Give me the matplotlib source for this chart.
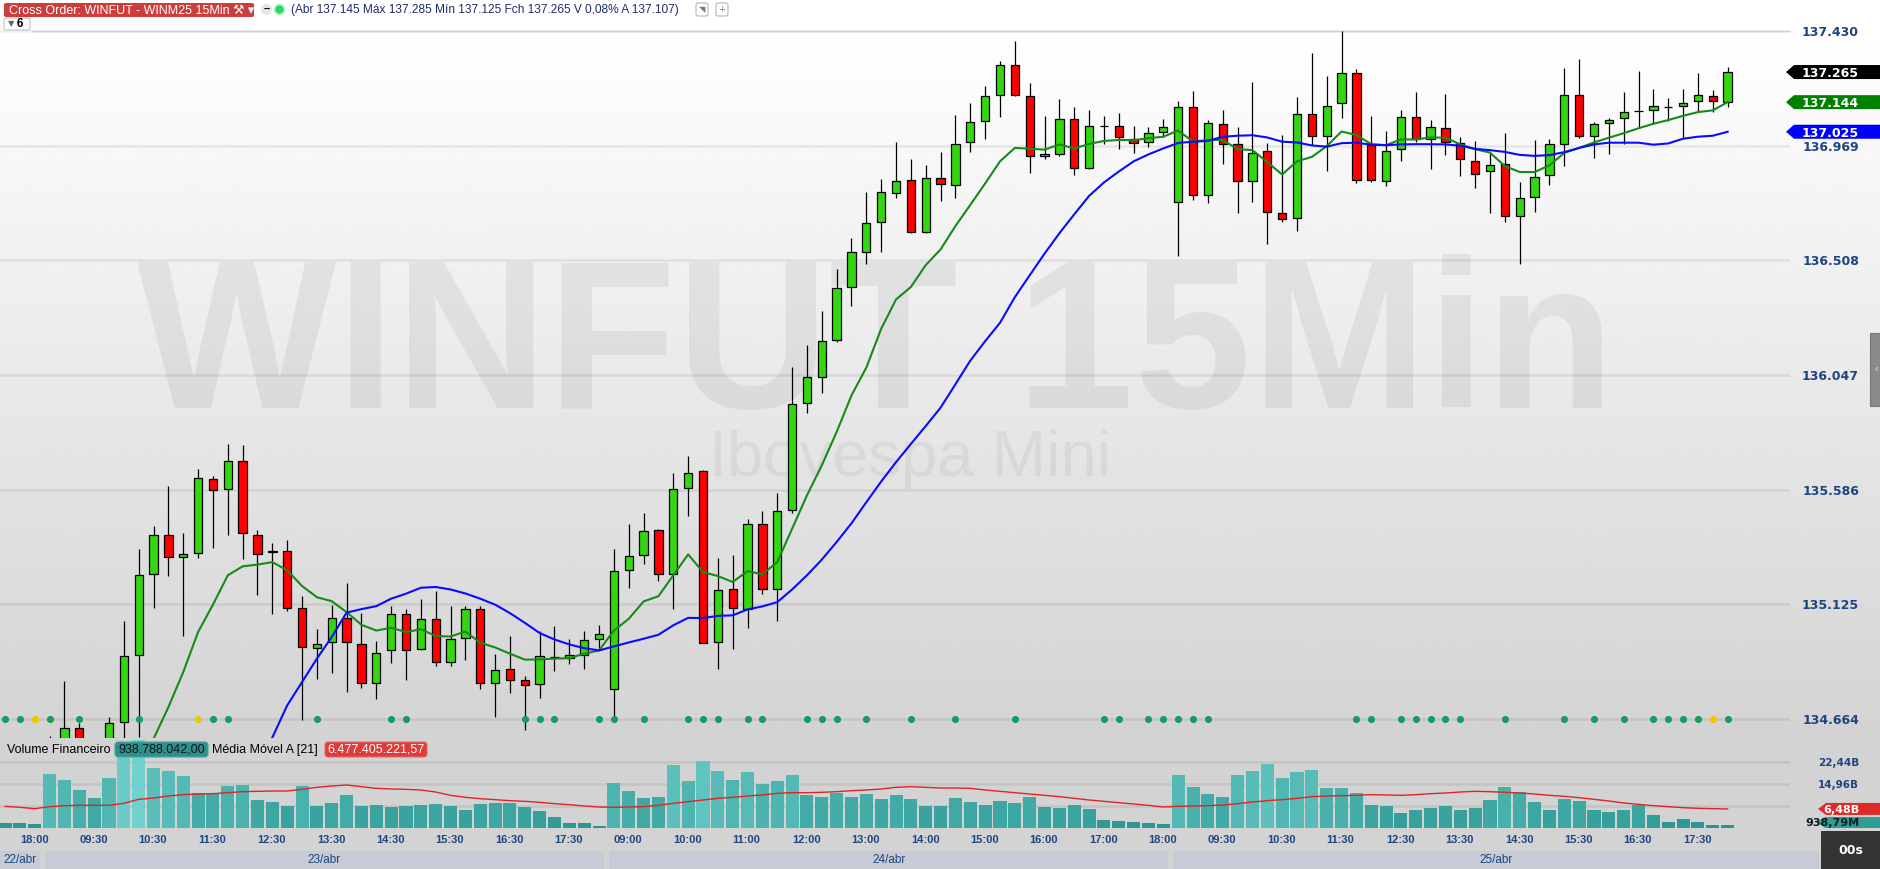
import numpy as np
import matplotlib
matplotlib.use('Agg')
import matplotlib.pyplot as plt
from matplotlib.patches import Rectangle, Polygon, FancyBboxPatch, Circle

plt.rcParams['font.family'] = ['Liberation Sans', 'DejaVu Sans']

nan = np.nan

# candles 15 min (pontos)
open_ = [134520, 134540, 134530, 134545, 134560, 134627, 134560, 134580, 134651, 134920,
         135248, 135406, 135314, 135330, 135628, 135587, 135700, 135406, 135334, 135338,
         135109, 134948, 134972, 135069, 134964, 134811, 134940, 135085, 134944, 135065,
         134892, 134988, 135105, 134811, 134864, 134823, 134806, 134913, 134909, 134923,
         134984, 134783, 135262, 135322, 135423, 135246, 135591, 135660, 134972, 135185,
         135105, 135447, 135185, 135503, 135933, 136039, 136188, 136399, 136540, 136661,
         136778, 136831, 136624, 136839, 136810, 136984, 137068, 137173, 137294, 137169,
         136927, 136935, 137077, 136879, 137048, 137048, 136996, 136984, 137022, 136743,
         137126, 136771, 137057, 136975, 136829, 136947, 136699, 136678, 137097, 137008,
         137142, 137260, 136971, 136829, 136955, 137085, 136996, 137040, 136979, 136906,
         136866, 136894, 136687, 136764, 136853, 136975, 137171, 137008, 137061, 137081,
         137110, 137114, 137126, 137130, 137150, 137167, 137145]
high = [134560, 134575, 134570, 134596, 134817, 134648, 134575, 134672, 135058, 135347,
        135440, 135601, 135412, 135669, 135641, 135770, 135766, 135424, 135372, 135384,
        135158, 135026, 135124, 135211, 135090, 134978, 135118, 135106, 135146, 135179,
        135118, 135118, 135118, 134925, 135000, 134837, 135020, 135037, 134984, 135020,
        135041, 135347, 135447, 135492, 135428, 135653, 135721, 135664, 135311, 135322,
        135468, 135500, 135573, 136078, 136169, 136304, 136473, 136598, 136784, 136836,
        136985, 136917, 136892, 136945, 137094, 137142, 137207, 137308, 137388, 137219,
        137090, 137155, 137125, 137114, 137090, 137102, 137050, 137044, 137076, 137148,
        137188, 137072, 137111, 137046, 137225, 136981, 137013, 137164, 137343, 137249,
        137428, 137276, 137087, 137026, 137111, 137184, 137074, 137176, 137005, 136989,
        136941, 137021, 136821, 136993, 136997, 137282, 137317, 137065, 137082, 137184,
        137270, 137196, 137162, 137196, 137261, 137191, 137285]
low = [134470, 134500, 134480, 134500, 134530, 134540, 134520, 134560, 134560, 134593,
       135112, 135240, 134999, 135313, 135353, 135405, 135309, 135164, 135087, 135100,
       134661, 134826, 134850, 134774, 134790, 134746, 134890, 134822, 134940, 134878,
       134878, 134903, 134786, 134672, 134770, 134621, 134750, 134858, 134885, 134866,
       134944, 134668, 135192, 135289, 135219, 135108, 135481, 134968, 134864, 134947,
       135031, 135165, 135059, 135494, 135895, 135976, 136180, 136324, 136495, 136543,
       136757, 136616, 136616, 136745, 136757, 136942, 136995, 137083, 137169, 136861,
       136914, 136926, 136853, 136875, 136974, 136954, 136938, 136962, 137003, 136526,
       136750, 136737, 136895, 136697, 136741, 136575, 136662, 136628, 136971, 136868,
       137080, 136819, 136823, 136807, 136909, 136982, 136876, 136933, 136848, 136799,
       136697, 136661, 136495, 136701, 136809, 136886, 136998, 136921, 136937, 136975,
       137040, 137057, 137069, 137000, 137103, 137106, 137125]
close = [134540, 134530, 134550, 134560, 134627, 134570, 134570, 134647, 134917, 135245,
         135406, 135314, 135326, 135632, 135583, 135700, 135414, 135329, 135341, 135112,
         134952, 134964, 135069, 134972, 134811, 134928, 135085, 134940, 135065, 134892,
         134984, 135105, 134811, 134860, 134823, 134803, 134916, 134913, 134923, 134980,
         135007, 135258, 135318, 135419, 135246, 135587, 135652, 134968, 135181, 135109,
         135447, 135185, 135499, 135929, 136038, 136183, 136397, 136542, 136657, 136782,
         136827, 136624, 136839, 136814, 136976, 137066, 137169, 137294, 137173, 136927,
         136935, 137077, 136879, 137048, 137048, 137004, 136980, 137020, 137046, 137126,
         136771, 137061, 136974, 136829, 136939, 136703, 136674, 137097, 137008, 137130,
         137260, 136833, 136833, 136947, 137085, 136996, 137045, 136983, 136914, 136857,
         136890, 136687, 136760, 136845, 136975, 137171, 137008, 137057, 137073, 137106,
         137110, 137130, 137126, 137142, 137171, 137150, 137265]

# medias moveis
ma_fast = [nan] * 9 + [
    134470, 134585, 134712, 134853, 135014, 135124, 135242, 135278, 135285, 135295,
    135262, 135199, 135154, 135138, 135094, 135043, 135020, 135031, 135014, 135025,
    134998, 134996, 135016, 134971, 134952, 134927, 134903, 134904, 134907, 134909,
    134927, 134940, 135020, 135067, 135137, 135158, 135242, 135326, 135255, 135239,
    135215, 135259, 135246, 135295, 135429, 135563, 135684, 135818, 135965, 136077,
    136233, 136351, 136401, 136489, 136552, 136646, 136731, 136817, 136906, 136960,
    136957, 136953, 136974, 136958, 136976, 136988, 136992, 136991, 136999, 137005,
    137030, 136985, 136992, 136992, 136955, 136951, 136903, 136853, 136906, 136924,
    136967, 137026, 137012, 136975, 136971, 136994, 136994, 137002, 137001, 136974,
    136955, 136941, 136887, 136863, 136863, 136890, 136940, 136960, 136982, 137001,
    137019, 137039, 137057, 137072, 137089, 137104, 137111, 137144]
ma_slow = [nan] * 17 + [
    134460, 134590, 134719, 134813, 134907, 134994, 135092, 135106, 135118, 135148,
    135168, 135192, 135195, 135185, 135169, 135148, 135124, 135090, 135051, 135010,
    134984, 134964, 134949, 134940, 134956, 134972, 134987, 135003, 135041, 135071,
    135070, 135079, 135081, 135105, 135117, 135134, 135185, 135242, 135305, 135376,
    135451, 135536, 135619, 135697, 135770, 135842, 135916, 136010, 136105, 136183,
    136257, 136360, 136448, 136535, 136617, 136693, 136767, 136821, 136865, 136906,
    136934, 136958, 136980, 136985, 136988, 137005, 137009, 137011, 137002, 136985,
    136982, 136970, 136965, 136979, 136981, 136973, 136971, 136974, 136975, 136975,
    136974, 136969, 136956, 136951, 136944, 136932, 136928, 136931, 136943, 136960,
    136974, 136981, 136981, 136981, 136973, 136978, 136997, 137005, 137009, 137025]

# volume financeiro (bilhoes) e media movel 21
volume = [1.70, 1.70, 1.36, 18.47, 16.43, 12.92, 10.20, 17.00, 27.2, 30.0,
          20.40, 19.49, 17.68, 11.79, 11.79, 14.28, 14.62, 9.52, 8.84, 7.48,
          14.28, 7.48, 8.50, 11.22, 7.48, 7.82, 7.14, 7.48, 7.82, 8.16,
          7.48, 6.12, 8.16, 8.50, 8.50, 7.14, 5.78, 3.63, 1.70, 1.70,
          0.68, 15.30, 12.58, 10.20, 10.54, 21.42, 15.98, 22.78, 19.38, 16.32,
          19.04, 14.96, 15.98, 18.02, 11.22, 10.54, 11.90, 10.54, 11.56, 9.86,
          11.22, 9.86, 7.48, 7.48, 10.20, 8.84, 7.82, 9.18, 8.50, 10.54,
          7.14, 6.80, 7.82, 6.46, 2.72, 2.38, 2.04, 1.70, 1.36, 18.02,
          13.94, 11.56, 10.54, 18.02, 19.38, 21.76, 17.00, 19.04, 19.72, 13.60,
          13.60, 11.90, 7.82, 7.48, 5.10, 6.12, 6.80, 7.48, 6.12, 6.80,
          9.52, 13.94, 12.24, 8.84, 6.12, 9.86, 9.18, 6.12, 5.44, 6.12,
          7.82, 4.42, 2.04, 3.06, 2.04, 1.02, 0.93879]
volume_ma = [7.37, 7.03, 6.57, 7.25, 7.59, 7.71, 7.71, 7.71, 8.39, 9.75,
             10.20, 10.88, 11.33, 11.56, 11.67, 12.01, 12.35, 12.47, 12.58, 12.58,
             13.15, 13.83, 14.28, 14.62, 14.05, 13.49, 13.26, 13.15, 12.92, 12.24,
             11.11, 10.43, 9.97, 9.63, 9.29, 9.07, 8.73, 8.27, 7.93, 7.48,
             7.14, 7.03, 7.14, 7.25, 7.71, 8.39, 8.95, 9.52, 10.09, 10.43,
             10.88, 11.22, 11.79, 12.01, 12.01, 12.13, 12.35, 12.69, 12.92, 13.26,
             13.83, 14.05, 13.83, 13.60, 13.60, 13.49, 12.92, 12.47, 12.01, 11.56,
             11.11, 10.65, 10.09, 9.52, 9.07, 8.61, 8.16, 7.71, 7.14, 7.37,
             7.48, 7.59, 7.82, 8.27, 8.84, 9.29, 9.63, 10.09, 10.65, 10.88,
             10.99, 11.11, 11.33, 11.22, 11.11, 11.33, 11.67, 11.90, 12.24, 12.47,
             12.35, 12.13, 11.90, 11.56, 11.11, 10.77, 10.31, 9.75, 9.18, 8.50,
             8.05, 7.59, 7.25, 6.91, 6.69, 6.57, 6.48]

# pontos do indicador na linha inferior
dots_green = [0, 1, 3, 5, 9, 14, 15, 21, 26, 27, 35, 36, 37, 40, 41, 43, 46, 47, 48, 50,
              51, 54, 55, 56, 58, 61, 64, 68, 74, 75, 77, 78, 79, 80, 81, 91, 92, 94, 95,
              96, 97, 98, 101, 105, 107, 109, 111, 112, 113, 114, 116]
dots_yellow = [2, 13, 115]

price_ticks = [134664, 135125, 135586, 136047, 136508, 136969, 137430]
vol_ticks = [7.48, 14.96, 22.44]

days = ['22/abr', '23/abr', '24/abr', '25/abr']
day_bars = [3, 38, 38, 38]
first_times = ['17:45', '18:00', '18:15']
session_times = [f'{h:02d}:{m:02d}' for h in range(9, 19) for m in (0, 15, 30, 45)][:38]
times = first_times + session_times * 3

n = len(close)
x = np.arange(n)
o, hi, lo, c = map(np.array, (open_, high, low, close))

W, H = 1881, 869
NAVY = '#1d4580'

fig = plt.figure(figsize=(W / 100, H / 100), dpi=100, facecolor='#d3d3d3')

# fundo
bg = fig.add_axes([0, 0, 1, 1], zorder=0)
grad = np.linspace(255, 211, 256)[:, None] * np.ones((1, 2))
bg.imshow(grad, extent=(0, W, 738, 30), aspect='auto', cmap='gray', vmin=0, vmax=255)
bg.add_patch(Rectangle((0, 0), W, 30, fc='white', ec='none'))
bg.plot([32, 1790], [30.5, 30.5], color='#e0e0e0', lw=1)
bg.text(876, 408, 'WINFUT 15Min', fontsize=152, fontweight='bold', family='Liberation Sans',
        color='black', alpha=0.06, ha='center', va='baseline')
bg.text(910, 476, 'Ibovespa Mini', fontsize=47, family='Liberation Sans',
        color='black', alpha=0.05, ha='center', va='baseline')
bg.set_xlim(0, W)
bg.set_ylim(H, 0)
bg.axis('off')

# painel de preco
ax = fig.add_axes([0, 1 - 738 / H, 1790 / W, 708 / H], zorder=1)
ax.set_facecolor('none')
ax.set_xlim(-0.34, 120.2)
ax.set_ylim(134588, 137434)
for s in ax.spines.values():
    s.set_visible(False)
ax.set_xticks([])
ax.set_yticks([])
for t in price_ticks:
    ax.axhline(t, color='black', alpha=0.07, lw=1.8, zorder=1)

up = c >= o
body_col = np.where(up, '#33d611', '#ff0000')
ax.vlines(x, lo, hi, color='black', lw=0.9, zorder=3)
ax.bar(x, np.abs(c - o), bottom=np.minimum(o, c), width=0.56, color=body_col,
       edgecolor='black', linewidth=0.9, zorder=4)
ax.plot(x, ma_fast, color='#178a17', lw=1.5, zorder=5)
ax.plot(x, ma_slow, color='#0a0aff', lw=1.5, zorder=5)
ax.scatter(dots_green, [price_ticks[0]] * len(dots_green), s=26, color='#169c5c', zorder=6, lw=0)
ax.scatter(dots_yellow, [price_ticks[0]] * len(dots_yellow), s=26, color='#f2c500', zorder=6, lw=0)

# painel de volume
axv = fig.add_axes([0, 1 - 828 / H, 1790 / W, 90 / H], zorder=1)
axv.set_facecolor('none')
axv.set_xlim(ax.get_xlim())
axv.set_ylim(0, 30.6)
for s in axv.spines.values():
    s.set_visible(False)
axv.set_xticks([])
axv.set_yticks([])
for t in vol_ticks:
    axv.axhline(t, color='black', alpha=0.07, lw=1.8, zorder=1)
vol = np.array(volume)
frac = np.clip(vol / 30, 0, 1)[:, None]
dark = np.array([40, 148, 143]) / 255
light = np.array([112, 210, 206]) / 255
axv.bar(x, vol, width=0.88, color=dark + (light - dark) * frac, zorder=2)
axv.plot(x, volume_ma, color='#e02424', lw=1.0, zorder=3)

# camada de textos
ov = fig.add_axes([0, 0, 1, 1], zorder=10)
ov.set_xlim(0, W)
ov.set_ylim(H, 0)
ov.axis('off')


def ypix(a, v):
    return H - a.transData.transform((0, v))[1]


def xpix(i):
    return ax.transData.transform((i, 0))[0]


def fmt_price(v):
    return f'{int(round(v)):,}'.replace(',', '.')


def fmt_vol(v):
    if v >= 1:
        return f'{v:.2f}'.replace('.', ',') + 'B'
    return f'{v * 1000:.2f}'.replace('.', ',') + 'M'


for t in price_ticks:
    ov.text(1859, ypix(ax, t), fmt_price(t), ha='right', va='center_baseline', fontsize=9,
            fontweight='bold', color=NAVY, family='DejaVu Sans')
for t in vol_ticks[1:]:
    ov.text(1859, ypix(axv, t), fmt_vol(t), ha='right', va='center_baseline', fontsize=7.5,
            fontweight='bold', color=NAVY, family='DejaVu Sans')


def tag(yc, text, fc, tc, x0, fs=9, h=14):
    pts = [(x0, yc), (x0 + 8, yc - h / 2), (W, yc - h / 2), (W, yc + h / 2), (x0 + 8, yc + h / 2)]
    ov.add_patch(Polygon(pts, closed=True, fc=fc, ec='none'))
    ov.text(1859, yc, text, ha='right', va='center_baseline', fontsize=fs, fontweight='bold',
            color=tc, family='DejaVu Sans')


tag(ypix(ax, close[-1]), fmt_price(close[-1]), 'black', 'white', 1786)
tag(ypix(ax, ma_fast[-1]), fmt_price(ma_fast[-1]), '#008000', 'white', 1786)
tag(ypix(ax, ma_slow[-1]), fmt_price(ma_slow[-1]), '#0000ff', 'white', 1786)
tag(ypix(axv, volume_ma[-1]), fmt_vol(volume_ma[-1]), '#e02a2a', 'white', 1818, fs=8, h=12)
tag(min(ypix(axv, volume[-1]), 822.5), fmt_vol(volume[-1]), '#2f9c96', '#0d1f1f', 1817, fs=8, h=11)

# eixo de tempo
for i in range(1, n, 4):
    ov.text(xpix(i), 840, times[i], ha='left', va='center', fontsize=8, fontweight='bold',
            color=NAVY, family='Liberation Sans')
start = 0
for k, (d, nb) in enumerate(zip(days, day_bars)):
    left = max(0, xpix(start - 0.5) + 2.5)
    right = 1819 if k == len(days) - 1 else xpix(start + nb - 0.5) - 2.5
    ov.add_patch(Rectangle((left, 851), right - left, 18, fc='#c6cbd6', ec='none'))
    ov.text((left + right) / 2, 860, d, ha='center', va='center', fontsize=8.5,
            color=NAVY, family='Liberation Sans')
    start += nb

ov.add_patch(Rectangle((1821, 831), 60, 38, fc='#333333', ec='none'))
ov.text(1851, 851, '00s', ha='center', va='center', fontsize=9, fontweight='bold', color='white',
        family='DejaVu Sans')
ov.add_patch(Rectangle((1870, 333), 11, 73, fc='#8a8a8a', ec='#777777', lw=0.8))
ov.text(1876, 369, '‹', ha='center', va='center', fontsize=8, color='#dddddd')

# legenda do volume
ov.text(7, 750, 'Volume Financeiro', ha='left', va='center', fontsize=9, color='black')
ov.add_patch(FancyBboxPatch((115, 742), 93, 15, boxstyle='round,pad=0,rounding_size=3',
                            fc='#2f8f8b', ec='#4aa7a3', lw=0.8))
ov.text(161.5, 750, '938.788.042,00', ha='center', va='center', fontsize=9, color='#081818')
ov.text(212, 750, 'Média Móvel A [21]', ha='left', va='center', fontsize=9, color='black')
ov.add_patch(FancyBboxPatch((325, 742), 102, 15, boxstyle='round,pad=0,rounding_size=3',
                            fc='#e03a3a', ec='#e86a6a', lw=0.8))
ov.text(376, 750, '6.477.405.221,57', ha='center', va='center', fontsize=9, color='white')

# cabecalho
ov.add_patch(FancyBboxPatch((4, 3), 250, 14, boxstyle='round,pad=0,rounding_size=2',
                            fc='#cc3d3d', ec='none'))
ov.text(9, 10.5, 'Cross Order: WINFUT - WINM25 15Min \u2692 \u25be', ha='left', va='center',
        fontsize=9, color='white', family=['Liberation Sans', 'DejaVu Sans'])
ov.add_patch(Circle((266.5, 9.5), 5.5, fc='#e6e6e6', ec='none'))
ov.text(266.5, 9.5, '\u2013', ha='center', va='center', fontsize=8, fontweight='bold', color='black')
ov.add_patch(Circle((279.5, 9.5), 6, fc='#c4f2d2', ec='none'))
ov.add_patch(Circle((279.5, 9.5), 4.2, fc='#22dd60', ec='none'))
info = (f'(Abr {fmt_price(open_[-1])} Máx {fmt_price(high[-1])} Mín {fmt_price(low[-1])} '
        f'Fch {fmt_price(close[-1])} V 0,08% A 137.107)')
ov.text(291, 10, info, ha='left', va='center', fontsize=8.6, color='#1c2d6b')
for bx, sym in [(696, '\u25e5'), (716, '+')]:
    ov.add_patch(FancyBboxPatch((bx, 3), 12, 13, boxstyle='round,pad=0,rounding_size=2',
                                fc='white', ec='#b5b5b5', lw=0.8))
    ov.text(bx + 6, 9.5, sym, ha='center', va='center', fontsize=6, color='#777777',
            family=['DejaVu Sans'])
ov.add_patch(FancyBboxPatch((4, 18), 26, 12, boxstyle='round,pad=0,rounding_size=2',
                            fc='white', ec='#c0c0c0', lw=0.8))
ov.text(11, 24, '\u25bc', ha='center', va='center', fontsize=6, color='#666666', family=['DejaVu Sans'])
ov.text(20, 24, '6', ha='center', va='center', fontsize=8.5, fontweight='bold', color='black')

fig.savefig('out.png', dpi=100, facecolor=fig.get_facecolor())
